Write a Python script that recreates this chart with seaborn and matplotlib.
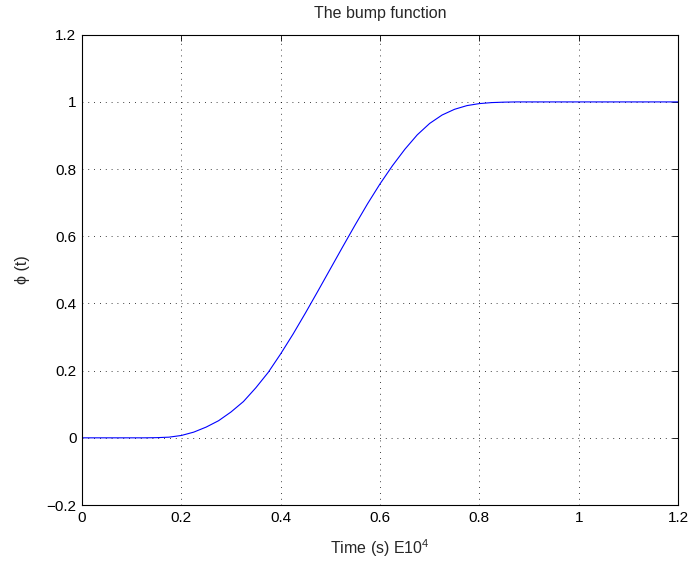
import numpy as np
import pandas as pd
import matplotlib
matplotlib.use("Agg")
import matplotlib.pyplot as plt
import seaborn as sns

# Data
time_e4 = [0.0, 0.05, 0.1, 0.125, 0.15, 0.175, 0.2, 0.225, 0.25, 0.275, 0.3,
           0.325, 0.35, 0.375, 0.4, 0.425, 0.45, 0.475, 0.5, 0.525, 0.55,
           0.575, 0.6, 0.625, 0.65, 0.675, 0.7, 0.725, 0.75, 0.775, 0.8,
           0.825, 0.85, 0.875, 0.9, 1.0, 1.1, 1.2]
phi = [0.0, 0.0, 0.0, 0.0, 0.0005, 0.002, 0.007, 0.017, 0.032, 0.051, 0.077,
       0.108, 0.149, 0.195, 0.25, 0.309, 0.372, 0.437, 0.503, 0.569, 0.634,
       0.697, 0.756, 0.81, 0.859, 0.902, 0.936, 0.961, 0.978, 0.989, 0.995,
       0.998, 0.9993, 1.0, 1.0, 1.0, 1.0, 1.0]
x_ticks = [0, 0.2, 0.4, 0.6, 0.8, 1.0, 1.2]
x_tick_labels = ["0", "0.2", "0.4", "0.6", "0.8", "1", "1.2"]
y_ticks = [-0.2, 0, 0.2, 0.4, 0.6, 0.8, 1.0, 1.2]
y_tick_labels = ["\u22120.2", "0", "0.2", "0.4", "0.6", "0.8", "1", "1.2"]

sns.set_style("white")
plt.rcParams['font.family'] = ['Liberation Sans', 'DejaVu Sans']
plt.rcParams['mathtext.fontset'] = 'custom'
plt.rcParams['mathtext.rm'] = 'Liberation Sans'
plt.rcParams['mathtext.it'] = 'Liberation Sans:italic'

df = pd.DataFrame({"t": time_e4, "phi": phi})

fig = plt.figure(figsize=(6.91, 5.62), dpi=100)
ax = fig.add_axes([0.1187, 0.1014, 0.8625, 0.8368])

sns.lineplot(data=df, x="t", y="phi", ax=ax, color=(0, 0, 1), linewidth=0.8)

ax.set_xlim(0, 1.2)
ax.set_ylim(-0.2, 1.2)
ax.set_xticks(x_ticks)
ax.set_xticklabels(x_tick_labels)
ax.set_yticks(y_ticks)
ax.set_yticklabels(y_tick_labels)

ax.grid(True, color='black', linestyle=(0, (1, 6)), linewidth=0.6)
ax.tick_params(direction='in', length=4, width=0.6, top=True, right=True,
               labelsize=11, colors='black', pad=4)
for s in ax.spines.values():
    s.set_visible(True)
    s.set_color('black')
    s.set_linewidth(0.8)

ax.set_title("The bump function", fontsize=11.5, pad=12)
ax.set_xlabel("Time (s) E10$^4$", fontsize=11.5, labelpad=9)
ax.set_ylabel("\u03d5 (t)", fontsize=11.5, labelpad=12)

fig.savefig("out.png", dpi=100)
